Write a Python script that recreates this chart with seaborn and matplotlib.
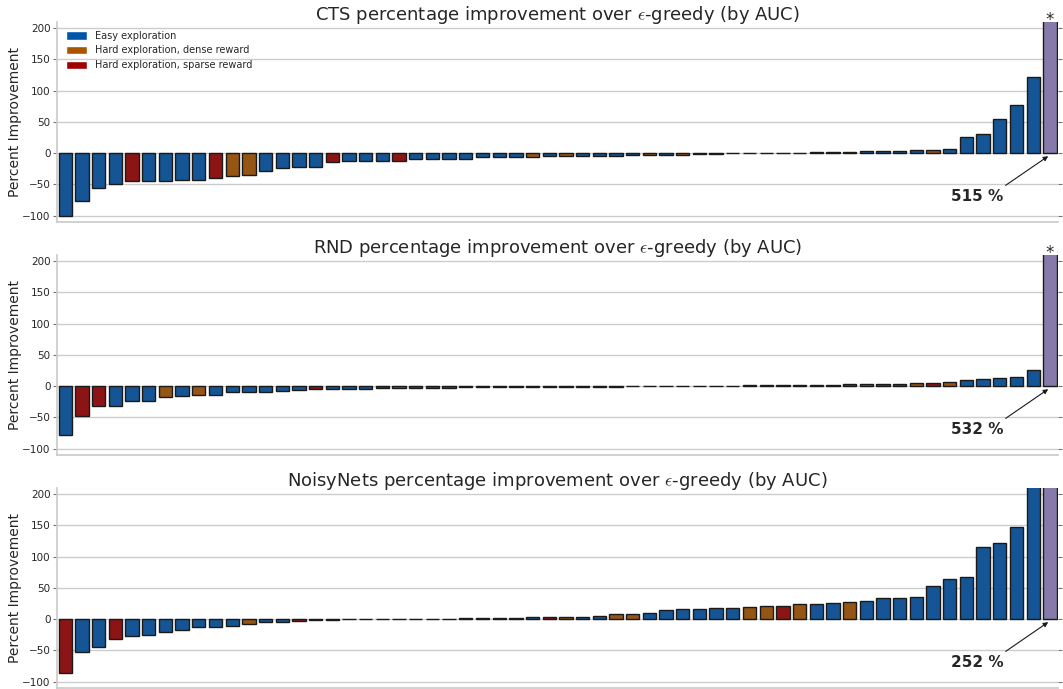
import numpy as np
import pandas as pd
import matplotlib
matplotlib.use("Agg")
import matplotlib.pyplot as plt
import seaborn as sns
from matplotlib.patches import Patch

# ---------------- data ----------------
methods = ["CTS", "RND", "NoisyNets"]
starred = [True, True, False]

cts_values = [-100, -76, -56, -50, -45.5, -45, -44.5, -43.5, -43, -40,
              -36, -35.5, -29, -24, -23, -22, -14, -13.5, -13, -13,
              -12.5, -10, -10, -10, -9, -6.5, -6.5, -6, -6, -5,
              -4.5, -4.3, -4.3, -4.2, -3.8, -3.3, -3, -2.7, -2.2, -2,
              -0.6, -0.3, 0.3, 0.5, 0.8, 1.2, 1.6, 2.1, 2.7, 3.2,
              3.7, 4.3, 5.3, 6.4, 26, 30, 55, 77, 121, 515]
cts_cats = ["E", "E", "E", "E", "S", "E", "E", "E", "E", "S",
            "D", "D", "E", "E", "E", "E", "S", "E", "E", "E",
            "S", "E", "E", "E", "E", "E", "E", "E", "D", "E",
            "D", "E", "E", "E", "E", "D", "E", "D", "S", "E",
            "E", "D", "E", "S", "D", "E", "D", "E", "E", "E",
            "E", "E", "D", "E", "E", "E", "E", "E", "E", "X"]

rnd_values = [-79, -48, -32, -31.5, -24, -23.5, -18, -15.5, -14.5, -14,
              -10, -9.5, -9, -8, -6.5, -5.5, -4.3, -4, -4, -3.2,
              -3, -3, -2.7, -2.5, -2.2, -2, -1.8, -1.6, -1.4, -1.2,
              -1.1, -1, -0.9, -0.8, -0.7, -0.6, -0.5, -0.4, -0.3, -0.2,
              0.5, 0.9, 1, 1.2, 1.5, 1.8, 2, 2.5, 3, 3.2,
              3.5, 4.5, 5.5, 6.5, 10, 11.7, 12.8, 14.4, 25, 532]
rnd_cats = ["E", "S", "S", "E", "E", "E", "D", "E", "D", "E",
            "E", "E", "E", "E", "E", "S", "E", "E", "E", "S",
            "D", "E", "E", "E", "E", "E", "D", "E", "E", "S",
            "E", "E", "D", "E", "E", "E", "E", "D", "E", "E",
            "E", "E", "E", "D", "E", "E", "E", "E", "D", "E",
            "E", "D", "S", "D", "E", "E", "E", "E", "E", "X"]

noisy_values = [-85.6, -52.7, -44.7, -32.4, -26.6, -25.5, -20.7, -17, -13.3, -12.2,
                -11.2, -7.4, -4.8, -4.3, -3.2, -1.5, -1.2, -0.6, -0.4, -0.2,
                -0.1, 0.1, 0.3, 0.5, 1.0, 1.5, 1.8, 2.0, 2.5, 3.0,
                3.2, 3.5, 5, 8, 8.5, 9, 15, 16.5, 16.5, 17.6,
                17.6, 19, 20.3, 20.8, 23.5, 24, 25.6, 27.2, 28.8, 33.6,
                33.6, 35.2, 53.3, 64, 67.2, 114.7, 122, 147, 230, 252]
noisy_cats = ["S", "E", "E", "S", "E", "E", "E", "E", "E", "E",
              "E", "D", "E", "E", "S", "E", "E", "E", "E", "E",
              "E", "E", "E", "E", "E", "D", "E", "E", "E", "S",
              "D", "E", "E", "D", "D", "E", "E", "E", "E", "E",
              "E", "D", "D", "S", "D", "E", "E", "D", "E", "E",
              "E", "E", "E", "E", "E", "E", "E", "E", "E", "X"]

category_names = {"E": "Easy exploration",
                  "D": "Hard exploration, dense reward",
                  "S": "Hard exploration, sparse reward"}
category_colors = {"E": "#0055aa", "D": "#aa5500", "S": "#a00000", "X": "#8172b2"}
yticks = [-100, -50, 0, 50, 100, 150, 200]

# ---------------- plotting ----------------
sns.set_theme(style="whitegrid")
plt.rcParams["font.family"] = ["DejaVu Sans"]
plt.rcParams["mathtext.fontset"] = "cm"

fig, axes = plt.subplots(3, 1, figsize=(10.63, 6.89), dpi=100)
fig.subplots_adjust(left=0.0536, right=0.9955, top=0.9684, bottom=0.0018, hspace=0.165)

panels = [(methods[0], cts_values, cts_cats, starred[0]),
          (methods[1], rnd_values, rnd_cats, starred[1]),
          (methods[2], noisy_values, noisy_cats, starred[2])]

for ax, (name, vals, cats, star) in zip(axes, panels):
    df = pd.DataFrame({"game": [str(i) for i in range(len(vals))],
                       "value": vals, "cat": cats})
    sns.barplot(data=df, x="game", y="value", hue="cat", palette=category_colors,
                dodge=False, legend=False, saturation=0.75, width=0.8,
                errorbar=None, edgecolor=".1", linewidth=1, ax=ax)
    ax.set_ylim(-110, 210)
    ax.set_yticks(yticks)
    ax.set_xticks([])
    ax.set_xlabel("")
    ax.grid(axis="x", visible=False)
    ax.grid(axis="y", color=".8", linewidth=1)
    ax.set_ylabel("Percent Improvement", fontsize=10, color=".15", labelpad=0.5)
    ax.set_title(f"{name} percentage improvement over $\\epsilon$-greedy (by AUC)",
                 fontsize=13, y=1.0, pad=1.0, color=".15")
    ax.tick_params(axis="y", left=True, right=True, length=3, width=0.8,
                   color=".45", labelsize=7.5, labelcolor=".15", pad=1.5)
    sns.despine(ax=ax, top=True, right=True)
    for s in ["left", "bottom"]:
        ax.spines[s].set_color(".8")

    n = len(vals)
    star_val = vals[-1]
    if star:
        ax.text(n - 1, 205, "*", ha="center", va="baseline", fontsize=12,
                color=".15", clip_on=False)
    ax.annotate(f"{star_val:.0f} %", xy=(n - 1.1, -5), xytext=(n - 5.35, -69),
                ha="center", va="center", fontsize=11, fontweight="bold", color=".15",
                arrowprops=dict(arrowstyle="-|>", color=".1", lw=0.8,
                                mutation_scale=7, shrinkA=0, shrinkB=0,
                                relpos=(0.95, 1.0)))

handles = [Patch(facecolor=category_colors[c], label=category_names[c]) for c in ["E", "D", "S"]]
leg = axes[0].legend(handles=handles, loc="upper left", frameon=False, fontsize=7,
                     handleheight=1.0, handlelength=2.2)
for t in leg.get_texts():
    t.set_color(".15")

fig.savefig("out.png", dpi=100)
